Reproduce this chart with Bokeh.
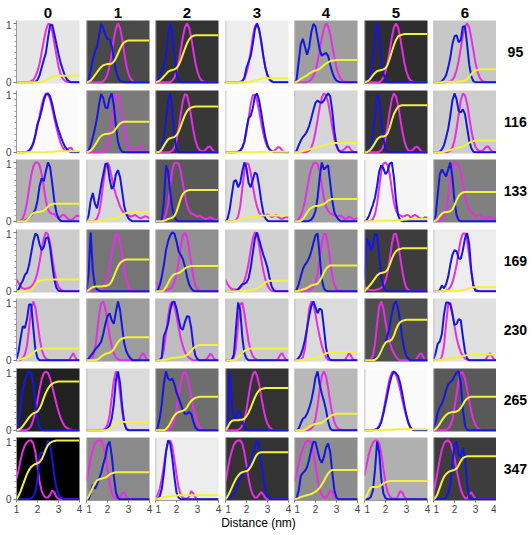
from bokeh.plotting import figure
from bokeh.layouts import gridplot, column
from bokeh.models import Range1d, FixedTicker, Span
from bokeh.core.properties import value
from bokeh.embed import file_html
from bokeh.resources import INLINE

# Sampling grid (nm) shared by every curve
DIST = [1.0, 1.1, 1.2, 1.3, 1.4, 1.5, 1.6, 1.7, 1.8, 1.9, 2.0, 2.1, 2.2, 2.3, 2.4, 2.5,
        2.6, 2.7, 2.8, 2.9, 3.0, 3.1, 3.2, 3.3, 3.4, 3.5, 3.6, 3.7, 3.8, 3.9, 4.0]

COLS = ["0", "1", "2", "3", "4", "5", "6"]
ROWS = ["95", "116", "133", "169", "230", "265", "347"]
X_TITLE = "Distance (nm)"

# Each curve: "start:values" in percent, one value per 0.1 nm from the start distance.
# Peak curves are zero outside the listed span; cumulative curves hold their last value.

BLUE_95 = ["1.9:1 4 12 25 38 50 75 97 98 82 65 48 33 22 12 5 2",
           "1.0:0 5 20 38 52 60 80 99 92 80 74 73 62 40 20 8 3 1",
           "1.0:0 3 12 20 28 45 80 100 85 45 15 3",
           "1.8:2 8 25 35 45 65 90 100 90 70 45 25 12 5 2",
           "1.0:0 5 35 65 74 60 47 60 85 99 95 75 55 45 48 50 45 30 17 8 3 1",
           "1.2:2 14 40 80 100 80 42 15 4 1",
           "1.4:2 6 12 25 42 65 78 80 68 72 95 95 65 30 10 2"]
MAGENTA_95 = ["1.7:2 4 10 19 32 51 71 88 99 99 87 67 46 27 14 6 3 1",
              "1.8:2 6 14 28 49 73 92 100 92 73 49 28 14 6 2",
              "1.8:3 8 18 33 54 76 93 100 93 76 54 33 18 8 3 1",
              "1.7:1 2 6 16 31 53 77 95 99 89 68 44 24 11 4 1",
              "1.6:1 2 5 11 19 35 55 75 91 100 95 82 62 42 25 13 6 2 1",
              "1.8:3 8 18 33 54 76 93 100 93 76 54 33 18 8 3 1",
              "1.7:1 2 4 10 21 37 58 80 95 100 93 75 54 33 18 8 3 1"]
YELLOW_95 = ["2.1:1 1 2 3 5 7 9 10 11",
             "1.1:1 3 7 12 17 22 26 29 30 31 31 32 35 41 49 57 64 68 70 71",
             "1.1:1 3 6 10 14 18 20 21 22 24 29 37 47 57 66 73 77 79 80",
             "2.2:1 2 3 4 5 6 7",
             "1.1:1 3 6 8 10 12 15 17 19 20 21 23 26 29 32 34 36 37 37 38",
             "1.1:1 3 7 12 16 19 20 21 22 24 30 40 52 63 72 78 80 81 82",
             "1.5:1 1 1 1 1 1 1 2 2 2 3 5 9 14 18 20 21 22"]

BLUE_116 = ["1.5:1 3 8 16 30 48 58 72 88 98 100 95 82 65 50 38 27 18 10 5 2",
            "1.1:3 12 25 40 58 82 99 92 76 75 92 100 80 45 18 6 1",
            "1.2:2 8 25 55 88 100 70 28 5",
            "1.6:1 3 8 18 40 58 62 75 95 100 88 68 45 25 12 5 2",
            "1.1:3 12 20 26 30 36 45 58 72 84 88 85 84 88 95 100 95 70 35 12 3",
            "1.2:1 8 28 65 97 90 55 22 6 1",
            "1.3:1 5 12 25 40 62 88 100 90 70 68 73 65 42 20 7 1"]
MAGENTA_116 = ["1.5:1 2 6 14 28 45 62 80 93 100 98 90 75 58 42 28 16 8 3 2 7 8 2",
               "1.8:1 3 10 28 55 82 98 98 82 58 35 18 8 4 3 3 6 10 10 5 1",
               "1.7:1 3 8 20 40 65 87 99 97 82 60 38 20 9 4 2 2 5 9 10 5 1",
               "1.6:1 3 8 18 35 58 82 97 98 88 70 50 32 18 9 4 2 2 5 9 8 3",
               "1.6:1 3 8 18 35 55 77 93 100 97 85 65 42 22 10 4 2 3 6 10 9 4 1",
               "1.7:1 4 10 24 45 70 90 100 95 80 58 36 19 8 3 2 4 8 10 6 2",
               "1.7:1 3 8 20 40 65 88 100 97 83 60 38 20 9 4 2 2 5 9 10 5 1"]
YELLOW_116 = ["2.5:1 1 1 1 2 2",
              "1.1:1 3 7 12 18 24 28 30 31 31 32 33 35 40 45 49 51 52",
              "1.2:1 5 11 17 22 24 25 26 29 35 44 54 63 70 74 76 77 78",
              "2.6:1",
              "1.3:1 2 3 4 5 6 7 8 9 10 11 12 13 14 15 15 16",
              "1.2:2 5 10 16 22 25 27 27 28 32 42 54 65 72 77 79 80",
              "1.5:1 2 3 4 5 6 7 8 9 10 12 14 16 18 19 20"]

BLUE_133 = ["1.4:1 3 6 10 14 20 35 60 73 68 85 100 92 65 35 15 5 1",
            "1.1:10 35 48 30 22 40 62 80 98 97 72 55 60 80 87 75 50 25 12 5 2",
            "1.3:2 35 95 85 50 22 8 2",
            "1.1:5 20 45 68 70 58 65 85 100 90 65 58 70 83 80 60 35 15 5 1",
            "1.7:1 3 8 18 40 75 100 88 92 95 65 35 15 8 3",
            "1.1:2 8 18 28 40 60 85 95 90 80 85 98 100 75 35 10 2",
            "1.1:10 45 80 88 82 76 88 100 75 35 10 2"]
MAGENTA_133 = ["1.2:1 5 15 32 55 78 93 100 100 95 80 58 35 20 14 13 12 8 6 8 11 10 6 3 2 4 8 10 8",
               "1.4:1 5 15 35 65 90 100 92 75 58 45 35 25 18 14 12 10 8 9 11 9 6 5 7 9 7 5",
               "1.3:1 4 12 30 60 88 99 100 98 85 65 45 28 18 13 12 10 8 9 7 5 4 5 7 5 3 2 4",
               "1.5:2 8 25 55 85 99 97 82 60 40 25 15 10 8 10 12 10 7 9 11 8 5 4 6 8 6",
               "1.1:1 4 10 20 35 55 75 90 98 100 97 85 62 40 25 18 14 12 10 8 9 10 7 4 5 8 6 3 4 6",
               "1.3:1 4 12 30 58 85 98 100 95 80 55 32 18 12 10 8 9 11 10 7 9 11 9 6 4 5 7 5",
               "1.3:1 3 8 20 42 70 92 100 100 95 82 62 42 28 20 16 12 9 10 11 8 5 4 6 8 6 3 2"]
YELLOW_133 = ["1.5:2 6 11 14 15 16 16 17 18 21 25 28 29 30",
              "1.6:1 1 2 2 3 3 4 4 5 6 8 11 13 14 15",
              "1.4:1 2 4 5 6 9 16 27 38 46 50 52 53",
              "1.5:1 2 3 4 5 6 7 7 8 8 9 9 10",
              "1.3:1 4 9 15 20 23 25 26 26 27 28 29 32 35 37 38",
              "1.5:1 1 1 1 1 1 1 1 1 1 2 2 2 2 3 3 4",
              "1.1:1 4 9 13 15 16 16 17 20 27 36 43 47 49 50"]

BLUE_169 = ["1.1:3 12 18 28 32 45 65 85 98 95 80 70 75 90 92 75 45 20 6 1",
            "1.1:30 100 35 10 3 1",
            "1.1:2 10 25 45 70 85 95 100 98 85 68 62 55 42 25 12 5 1",
            "1.5:1 3 8 12 13 15 22 40 65 90 100 88 75 62 52 40 22 8 2",
            "1.1:3 12 25 38 45 50 57 68 82 95 98 60 20 5 1",
            "1.0:20 90 85 68 80 98 95 60 25 8 2",
            "1.3:2 10 5 12 25 45 62 70 68 56 55 70 90 99 80 35 8 1"]
MAGENTA_169 = ["1.0:20 14 8 5 4 5 6 8 12 20 32 50 72 90 100 97 82 58 35 18 8 3 1",
               "1.6:1 2 5 12 25 42 65 85 98 97 82 60 36 18 7 2",
               "1.0:18 8 3 1 1 2 3 5 8 15 28 50 75 93 100 92 72 48 25 10 3 1",
               "1.0:20 12 7 4 3 3 4 6 10 18 30 48 70 90 100 95 78 55 35 20 10 4 1",
               "1.6:1 2 4 8 15 30 55 82 98 97 78 50 25 10 3 1",
               "1.0:8 5 3 2 2 2 3 4 6 10 18 32 55 80 97 98 82 58 35 16 6 2",
               "1.6:1 3 7 15 28 45 68 88 98 98 85 60 32 12 3 1"]
YELLOW_169 = ["1.6:1 3 7 12 16 18 19 19 20",
              "1.1:2 5 7 8 8 8 8 9 9 10 12 17 25 34 42 48 51 53 54",
              "1.4:2 7 14 21 26 29 30 31 33 36 39 41 42 43",
              "2.0:1 1 2 3 4 5 7 9 12 15 17 18",
              "1.2:1 2 3 4 6 8 10 11 12 13 17 24 32 38 42 44 44",
              "1.1:4 8 12 17 22 27 30 31 32 33 37 45 55 63 68 71 72 73",
              "1.5:1 1 1 1 1 1 1 1 1 2 3 4 5 6 7"]

BLUE_230 = ["1.0:2 15 38 58 55 70 95 95 55 18 4",
            "1.1:3 8 12 18 22 26 32 45 62 75 80 68 62 82 100 85 55 28 15 8 3",
            "1.3:5 42 50 62 85 98 100 88 70 55 52 65 75 74 55 25 8 2",
            "1.3:1 10 55 98 85 40 12 3",
            "1.1:1 4 10 20 35 55 75 92 100 90 80 88 85 55 22 6 1",
            "1.4:1 3 6 10 15 22 30 42 58 78 95 100 88 65 38 18 7 2",
            "1.0:2 12 28 32 45 78 98 98 95 78 60 62 70 68 40 15 3"]
MAGENTA_230 = ["1.2:1 4 10 25 55 88 100 90 65 38 18 8 3 1 0 0 0 0 0 0 0 0 0 0 6 12 5",
               "1.2:1 5 18 45 78 97 100 88 65 42 24 12 5 2 0 0 0 0 0 0 0 0 0 1 8 12 6 1",
               "1.2:1 5 18 45 75 95 100 92 75 55 38 24 14 8 4 2 0 0 0 0 0 0 1 5 11 8 2",
               "1.3:1 5 22 62 95 98 80 55 32 16 7 3 1 0 0 0 0 0 0 0 0 0 2 9 12 5",
               "1.3:1 5 20 55 88 100 95 78 58 40 25 13 5 1 0 0 0 0 0 0 0 1 6 12 7 1",
               "1.3:1 8 28 62 92 100 88 65 45 30 20 12 6 2 0 0 0 0 0 0 0 0 3 10 12 5",
               "1.3:1 6 25 62 95 98 82 58 38 24 14 7 3 1 0 0 0 0 0 0 0 0 2 8 12 6 1"]
YELLOW_230 = ["1.1:1 2 3 4 5 7 10 13 16 18 19 20",
              "1.5:1 3 6 9 11 12 13 15 19 25 31 35 37 38 39",
              "1.4:1 1 2 3 4 4 5 5 6 6 7 9 12 16 20 23 25 26",
              "1.5:2 5 9 13 16 18 19 20",
              "1.4:1 1 2 2 3 3 4 5 6 8 10 12 13 14",
              "1.5:1 4 9 16 24 30 32 33 35 42 52 60 65 67 68 69",
              "1.3:1 1 2 2 3 3 4 4 5 5 6 7 8 9 10"]

BLUE_265 = ["1.1:10 40 70 85 95 100 97 80 45 15 4 1",
            "1.9:1 3 8 20 45 85 100 80 40 12 2",
            "1.1:5 20 45 80 100 88 85 88 78 65 55 45 35 28 28 31 28 15 5 1",
            "1.1:20 100 45 18 22 32 30 15 5 1",
            "1.2:3 12 20 22 28 38 50 68 90 100 78 62 50 35 15 3",
            "1.5:1 2 6 14 28 45 62 80 93 100 97 92 80 62 42 25 12 4 1",
            "1.0:2 15 30 40 45 55 68 78 82 85 92 98 100 80 35 8 1"]
MAGENTA_265 = ["1.5:1 3 8 18 32 50 70 87 97 100 97 88 75 60 45 32 21 13 7 4 2 1",
               "1.8:1 3 10 25 55 85 100 90 62 32 12 3 1",
               "1.6:1 3 8 18 35 58 80 95 100 93 78 58 38 22 11 5 2",
               "1.6:1 3 8 18 35 58 80 95 100 93 78 58 38 22 11 5 2",
               "1.7:1 3 8 20 42 70 92 100 92 72 48 28 14 6 2 1",
               "1.5:1 3 8 17 32 52 72 88 98 100 94 83 68 52 36 22 11 4 1",
               "1.6:1 3 8 18 38 62 85 98 98 88 70 50 32 18 9 4 1"]
YELLOW_265 = ["1.1:1 3 7 12 17 22 26 29 30 32 37 45 55 64 71 76 79 81 82 83",
              "2.0:1 3 6 9 12 13 14",
              "1.5:2 6 12 19 25 29 31 32 33 35 39 45 50 53 55 56 57",
              "1.1:5 12 16 17 17 17 18 18 20 24 30 38 47 56 63 68 70 71 72",
              "1.5:1 3 6 8 10 11 11 12 13 15 18 21 24 26 27 28",
              "2.0:1 1 1 1 1 2 2",
              "1.1:2 6 11 17 22 26 29 30 31 31 32 34 38 44 50 54 56 57"]

BLUE_347 = ["1.6:1 2 5 12 35 75 80 78 88 100 92 68 40 20 8 3 1",
            "1.2:10 25 18 25 35 45 60 72 92 98 75 40 12 2",
            "1.1:1 5 18 45 80 100 95 70 38 12 3",
            "1.1:1 3 6 10 18 28 36 42 46 50 55 62 75 90 100 92 65 35 15 5 1",
            "1.1:2 15 40 45 48 55 68 85 98 97 82 68 62 72 88 95 80 45 15 3",
            "1.2:1 4 15 50 98 80 35 10 2",
            "1.5:1 3 10 25 60 92 98 75 72 88 70 25 3"]
MAGENTA_347 = ["1.0:35 50 68 82 92 97 100 100 95 80 55 30 14 6 3 3 8 15 12 4 1",
               "1.0:30 50 70 85 95 99 100 99 92 75 52 28 12 4 1 1 3 10 12 5 1",
               "1.0:3 8 18 35 58 82 97 100 90 68 42 20 8 3 1 1 5 14 10 3",
               "1.0:30 50 68 82 93 98 100 100 95 80 58 35 18 8 3 3 8 12 8 2",
               "1.0:30 45 60 75 87 95 99 100 95 80 58 35 17 7 3 3 8 15 12 4 1",
               "1.0:40 58 75 88 96 100 100 95 78 52 28 12 5 2 1 1 6 14 12 4 1",
               "1.0:12 28 48 68 85 95 99 100 96 85 70 50 32 17 7 2 2 8 12 6 1"]
YELLOW_347 = ["1.1:6 14 24 34 43 50 55 58 60 61 63 68 76 85 92 96 98 99 100",
              "1.1:5 12 20 27 32 34 35 36 37 39 42 44 45 46",
              "1.1:1 2 3 4 4 5 5 6 6 6 7 7",
              "1.1:5 12 20 28 35 40 44 46 47 48 50 55 62 70 76 79 80",
              "1.1:1 2 4 5 6 7 8 9 11 13 16 20 25 31 38 44 48 50",
              "1.1:6 14 20 21 21 21 22 24 27 29 30 31",
              "1.1:3 10 20 30 38 43 46 48 49 50 52 58 65 70 72 73"]

# Panel shading: darkness (0 = white, 1 = black) per row, columns 0..6
SHADE_95 = [0.10, 0.71, 0.80, 0.07, 0.38, 0.82, 0.22]
SHADE_116 = [0.02, 0.52, 0.78, 0.02, 0.16, 0.80, 0.20]
SHADE_133 = [0.30, 0.15, 0.65, 0.14, 0.38, 0.04, 0.50]
SHADE_169 = [0.20, 0.54, 0.43, 0.18, 0.44, 0.76, 0.07]
SHADE_230 = [0.20, 0.39, 0.26, 0.20, 0.14, 0.69, 0.12]
SHADE_265 = [0.87, 0.14, 0.57, 0.80, 0.28, 0.02, 0.65]
SHADE_347 = [1.00, 0.46, 0.07, 0.80, 0.45, 0.31, 0.76]

BLUE = [BLUE_95, BLUE_116, BLUE_133, BLUE_169, BLUE_230, BLUE_265, BLUE_347]
MAGENTA = [MAGENTA_95, MAGENTA_116, MAGENTA_133, MAGENTA_169, MAGENTA_230, MAGENTA_265, MAGENTA_347]
YELLOW = [YELLOW_95, YELLOW_116, YELLOW_133, YELLOW_169, YELLOW_230, YELLOW_265, YELLOW_347]
SHADE = [SHADE_95, SHADE_116, SHADE_133, SHADE_169, SHADE_230, SHADE_265, SHADE_347]


def curve(spec, hold_last):
    start, vals = spec.split(":")
    vals = [float(v) / 100.0 for v in vals.split()]
    i0 = DIST.index(float(start))
    out = [0.0] * i0 + vals
    tail = out[-1] if hold_last else 0.0
    out = out + [tail] * (len(DIST) - len(out))
    return out[:len(DIST)]


def gray(darkness):
    g = int(round(255 * (1.0 - darkness)))
    return "#%02x%02x%02x" % (g, g, g)


FONT = "Liberation Sans"
C_BLUE = "#1616e0"
C_MAGENTA = "#e62ee6"
C_YELLOW = "#f2f23c"

FRAME = 63
HEAD_H = 20
LABEL_W = 35
FOOT_H = 19
YMIN, YMAX = -0.02, 1.05
RIGHT_GAP = [7, 6, 7, 6, 7, 6, 0]
BOTTOM_GAP = [7, 6, 7, 6, 7, 6, 16]


def blank(width, height, xr, yr, left=0, right=0, bottom=0):
    q = figure(frame_width=width, frame_height=height, x_range=xr, y_range=yr,
               output_backend="svg", toolbar_location=None,
               x_axis_location=None, y_axis_location=None,
               min_border_left=left, min_border_right=right,
               min_border_top=0, min_border_bottom=bottom,
               background_fill_color="white", border_fill_color="white",
               outline_line_color=None)
    q.grid.visible = False
    return q


grid = []

# column headers
head = []
for c, clab in enumerate(COLS):
    h = blank(FRAME, HEAD_H, Range1d(1, 4), Range1d(0, 1),
              left=16 if c == 0 else 0, right=RIGHT_GAP[c])
    h.text(x=[2.5], y=[0.4], text=[clab], text_font=value(FONT),
           text_font_style="bold", text_font_size="15px",
           text_align="center", text_baseline="middle", text_color="black")
    head.append(h)
head.append(None)
grid.append(head)

for r, rlab in enumerate(ROWS):
    line = []
    for c, clab in enumerate(COLS):
        b = curve(BLUE[r][c], False)
        m = curve(MAGENTA[r][c], False)
        y = curve(YELLOW[r][c], True)

        p = figure(frame_width=FRAME, frame_height=FRAME,
                   x_range=Range1d(1, 4), y_range=Range1d(YMIN, YMAX),
                   output_backend="svg", toolbar_location=None,
                   x_axis_location="below" if r == 6 else None,
                   y_axis_location="left" if c == 0 else None,
                   min_border_left=16 if c == 0 else 0,
                   min_border_right=RIGHT_GAP[c],
                   min_border_top=0,
                   min_border_bottom=BOTTOM_GAP[r],
                   background_fill_color=gray(SHADE[r][c]),
                   border_fill_color="white",
                   outline_line_color=None)
        p.grid.visible = False

        if c == 0:
            ax = p.yaxis[0]
            ax.ticker = FixedTicker(ticks=[0, 1],
                                    minor_ticks=[0.1, 0.2, 0.3, 0.4, 0.5, 0.6, 0.7, 0.8, 0.9])
            ax.major_label_text_font = FONT
            ax.major_label_text_font_size = "10px"
            ax.major_label_standoff = 2
            ax.major_tick_out = 3
            ax.major_tick_in = 0
            ax.minor_tick_out = 2
            ax.minor_tick_in = 0
            ax.axis_line_color = "#9a9a9a"
            ax.major_tick_line_color = "#777777"
            ax.minor_tick_line_color = "#9a9a9a"
        else:
            p.add_layout(Span(location=1.0, dimension="height",
                              line_color="#b4b4b4", line_width=1.5))
        if r == 6:
            ax = p.xaxis[0]
            ax.ticker = FixedTicker(ticks=[1, 2, 3, 4])
            ax.major_label_text_font = FONT
            ax.major_label_text_font_size = "10px"
            ax.major_label_standoff = 2
            ax.major_tick_out = 2
            ax.major_tick_in = 0
            ax.minor_tick_out = 0
            ax.axis_line_color = "#9a9a9a"
            ax.major_tick_line_color = "#777777"

        p.line(DIST, m, line_color=C_MAGENTA, line_width=2)
        p.line(DIST, b, line_color=C_BLUE, line_width=2)
        p.line(DIST, y, line_color=C_YELLOW, line_width=2)
        line.append(p)

    # row label to the right of the row
    lab = blank(LABEL_W, FRAME, Range1d(0, 1), Range1d(YMIN, YMAX), bottom=BOTTOM_GAP[r])
    lab.text(x=[0.54], y=[0.515], text=[rlab], text_font=value(FONT),
             text_font_style="bold", text_font_size="14px",
             text_align="center", text_baseline="middle", text_color="black")
    line.append(lab)
    grid.append(line)

panels = gridplot(grid, toolbar_location=None)

# shared x title under the whole grid
total_w = 16 + FRAME * 7 + sum(RIGHT_GAP) + LABEL_W
foot = blank(total_w, FOOT_H, Range1d(0, total_w), Range1d(0, FOOT_H))
foot.text(x=[258], y=[FOOT_H - 6], text=[X_TITLE], text_font=value(FONT),
          text_font_size="12px", text_align="center", text_baseline="middle",
          text_color="black")

layout = column(panels, foot, spacing=0)
open("out.html", "w").write(file_html(layout, INLINE))
